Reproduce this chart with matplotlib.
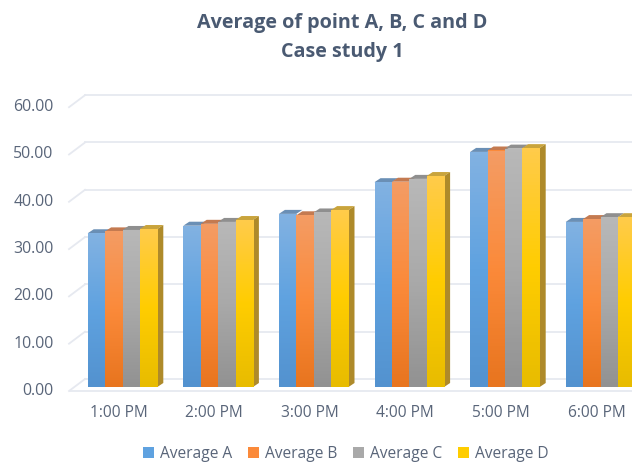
import matplotlib
matplotlib.use('Agg')
import matplotlib.pyplot as plt
import matplotlib.transforms as mtrans
from matplotlib.colors import LinearSegmentedColormap
import numpy as np

plt.rcParams['font.family'] = ['Open Sans', 'DejaVu Sans']

hours = ['1:00 PM', '2:00 PM', '3:00 PM', '4:00 PM', '5:00 PM', '6:00 PM']
average_a = [32.5, 34.1, 36.6, 43.3, 49.7, 34.9]
average_b = [32.9, 34.5, 36.3, 43.4, 50.0, 35.5]
average_c = [33.2, 34.9, 36.9, 44.0, 50.4, 35.9]
average_d = [33.4, 35.3, 37.4, 44.6, 50.5, 35.9]
y_ticks = [0, 10, 20, 30, 40, 50, 60]

series = [average_a, average_b, average_c, average_d]
names = ['Average A', 'Average B', 'Average C', 'Average D']
# top, middle, bottom of the front face
shades = [('#82b2e2', '#5fa2e0', '#5392cf'),
          ('#f49c64', '#fb8a3a', '#e8751f'),
          ('#b8b8b8', '#a9a9a9', '#929292'),
          ('#ffcb4a', '#ffcd00', '#e8bc00')]
roofs = ['#6a8fb5', '#c47a50', '#8f8f8f', '#c9a43c']
sides = ['#3f74a8', '#b0622a', '#777777', '#ae8a2a']

W, H = 632, 463
fig = plt.figure(figsize=(W / 100, H / 100), dpi=100, facecolor='white')
# axes box: y=0 sits on the bar bottoms, x runs off the right edge
ax = fig.add_axes([66 / W, (H - 387) / H, (W - 66) / W, 300 / H])
ax.set_xlim((66 - 122.5) / 95.6, (W - 122.5) / 95.6)
ax.set_ylim(0, 300 / 4.73)
ax.patch.set_alpha(0)
for s in ax.spines.values():
    s.set_visible(False)

grid_col = '#e6e9f0'
x0, x1 = ax.get_xlim()
px = 1 / 95.6


def shifted(dx, dy):
    return mtrans.offset_copy(ax.transData, fig=fig, x=dx, y=dy, units='dots')


# back wall and side wall gridlines
for v in y_ticks:
    ax.plot([x0 + 19 * px, x1], [v, v], color=grid_col, lw=1.3, clip_on=False,
            transform=shifted(0, 8), zorder=1)
    ax.plot([x0 + 3 * px, x0 + 19 * px], [v - 12 / 4.73, v], color=grid_col, lw=1.3,
            clip_on=False, transform=shifted(0, 8), zorder=1)
# front floor edge
ax.plot([x0 + 4 * px, x1], [0, 0], color=grid_col, lw=1.3, clip_on=False,
        transform=shifted(0, -4), zorder=1)

bar_w = 17.4 / 95.6
pos = np.arange(len(hours))
depth_x, depth_y = 6, 4
y_depth = depth_y / 4.73
x_depth = depth_x * px
for i, vals in enumerate(series):
    xs = pos + (i - 1.5) * bar_w
    bars = ax.bar(xs, vals, bar_w, color=shades[i][1], label=names[i], zorder=3, linewidth=0)
    cmap = LinearSegmentedColormap.from_list('s%d' % i, [shades[i][2], shades[i][1], shades[i][0]])
    for b, x, v in zip(bars, xs, vals):
        l, r = x - bar_w / 2, x + bar_w / 2
        im = ax.imshow(np.linspace(0, 1, 64)[::-1].reshape(-1, 1), cmap=cmap, aspect='auto',
                       extent=(l, r, 0, v), zorder=4)
        im.set_clip_path(b)
        ax.fill([l, l + x_depth, r + x_depth, r], [v, v + y_depth, v + y_depth, v],
                color=roofs[i], lw=0, zorder=2.5 + i * 0.1, clip_on=False)
        if i == 3:
            ax.fill([r, r + x_depth, r + x_depth, r], [0, y_depth, v + y_depth, v],
                    color=sides[i], lw=0, zorder=3, clip_on=False)

ax.set_xlim(x0, x1)
ax.set_ylim(0, 300 / 4.73)

txt_col = '#596579'
ax.set_xticks(pos, hours)
ax.set_yticks(y_ticks, ['%.2f' % v for v in y_ticks])
ax.tick_params(axis='x', length=0, labelsize=11.2, labelcolor=txt_col, pad=13)
ax.tick_params(axis='y', length=0, labelsize=11.4, labelcolor=txt_col, pad=9)
# the labels in the picture sit a little off the tick positions
for lab in ax.get_xticklabels():
    lab.set_transform(lab.get_transform() + mtrans.Affine2D().translate(-4, 0))
for lab in ax.get_yticklabels():
    lab.set_transform(lab.get_transform() + mtrans.Affine2D().translate(0, -2))

fig.text(342.5 / W, 1 - 23 / H, 'Average of point A, B, C and D', ha='center', va='center',
         fontsize=14.2, fontweight='bold', color='#4a5a72')
fig.text(342.5 / W, 1 - 52 / H, 'Case study 1', ha='center', va='center',
         fontsize=14.2, fontweight='bold', color='#4a5a72')

leg = fig.legend(loc='center', bbox_to_anchor=(346 / W, 1 - 454 / H), ncol=4, frameon=False,
                 fontsize=11.2, labelcolor=txt_col, handlelength=0.7, handleheight=0.7,
                 handletextpad=0.4, columnspacing=1.0, borderpad=0)

fig.savefig('out.png', dpi=100)
